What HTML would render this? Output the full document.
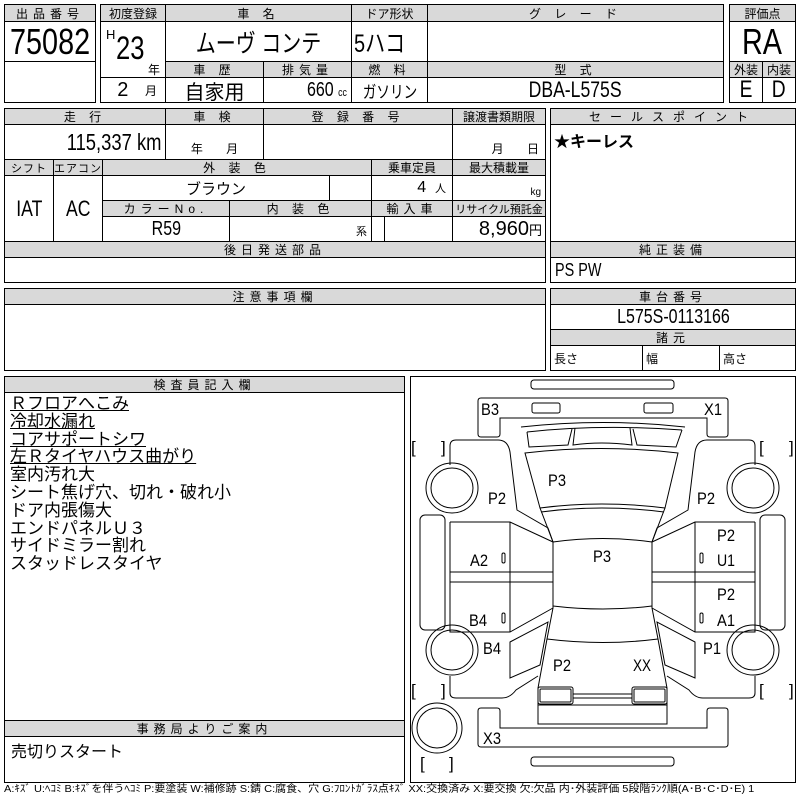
<!DOCTYPE html>
<html><head><meta charset="utf-8">
<style>
body{margin:0;width:800px;height:800px;background:#fff;position:relative;overflow:hidden;font-family:"Liberation Sans","Noto Sans CJK JP",sans-serif;}
.b{position:absolute;border:1px solid #000;box-sizing:border-box;display:flex;align-items:center;justify-content:center;font-size:13px;white-space:nowrap;overflow:hidden;color:#000;background:#fff}
.g{background:#d9d9d9;letter-spacing:5px;font-size:12px}
.c{display:inline-block;transform:scaleX(0.8)}
.cr{display:inline-block;transform:scaleX(0.8);transform-origin:right}
.lines{position:absolute;left:10px;top:395px;font-size:17px;line-height:17.8px;font-family:"Liberation Sans","Noto Sans CJK JP",sans-serif}
.lines div{white-space:nowrap}
.u{text-decoration:underline}
</style></head><body>
<div class="b g" style="left:4px;top:4px;width:92px;height:18px">出品番号</div>
<div class="b" style="left:4px;top:21px;width:92px;height:41px;font-size:36px"><span class="c">75082</span></div>
<div class="b" style="left:4px;top:61px;width:92px;height:42px"></div>

<div class="b g" style="left:100px;top:4px;width:66px;height:18px;letter-spacing:0">初度登録</div>
<div class="b g" style="left:165px;top:4px;width:187px;height:18px">車 名</div>
<div class="b g" style="left:351px;top:4px;width:77px;height:18px;letter-spacing:0">ドア形状</div>
<div class="b g" style="left:427px;top:4px;width:297px;height:18px">グ レ ー ド</div>
<div class="b" style="left:100px;top:21px;width:66px;height:57px"></div>
<div style="position:absolute;left:106px;top:27px;font-size:13px">H</div>
<div style="position:absolute;left:116px;top:30px;font-size:32px"><span class="c" style="transform-origin:left">23</span></div>
<div style="position:absolute;left:148px;top:61px;font-size:12px">年</div>
<div class="b" style="left:165px;top:21px;width:187px;height:41px;font-size:25px"><span class="c">ムーヴ コンテ</span></div>
<div class="b" style="left:351px;top:21px;width:77px;height:41px;font-size:25px;justify-content:flex-start;padding-left:2px"><span class="c" style="transform-origin:left">5ハコ</span></div>
<div class="b" style="left:427px;top:21px;width:297px;height:41px"></div>
<div class="b g" style="left:165px;top:61px;width:99px;height:17px">車 歴</div>
<div class="b g" style="left:263px;top:61px;width:89px;height:17px">排気量</div>
<div class="b g" style="left:351px;top:61px;width:77px;height:17px">燃 料</div>
<div class="b g" style="left:427px;top:61px;width:297px;height:17px">型 式</div>
<div class="b" style="left:100px;top:77px;width:66px;height:26px;font-size:20px;justify-content:flex-end;padding-right:8px">2&nbsp;&nbsp;&nbsp;<span style="font-size:12px">月</span></div>
<div class="b" style="left:165px;top:77px;width:99px;height:26px;font-size:20px">自家用</div>
<div class="b" style="left:263px;top:77px;width:89px;height:26px;font-size:20px;justify-content:flex-end;padding-right:4px"><span class="cr">660&nbsp;<span style="font-size:11px">cc</span></span></div>
<div class="b" style="left:351px;top:77px;width:77px;height:26px;font-size:17px"><span class="c">ガソリン</span></div>
<div class="b" style="left:427px;top:77px;width:297px;height:26px;font-size:22px"><span class="c">DBA-L575S</span></div>

<div class="b g" style="left:729px;top:4px;width:67px;height:18px;letter-spacing:0">評価点</div>
<div class="b" style="left:729px;top:21px;width:67px;height:41px;font-size:36px"><span class="c">RA</span></div>
<div class="b g" style="left:729px;top:61px;width:34px;height:17px;letter-spacing:0">外装</div>
<div class="b g" style="left:762px;top:61px;width:34px;height:17px;letter-spacing:0">内装</div>
<div class="b" style="left:729px;top:77px;width:34px;height:26px;font-size:24px"><span class="c">E</span></div>
<div class="b" style="left:762px;top:77px;width:34px;height:26px;font-size:24px"><span class="c">D</span></div>

<div class="b g" style="left:4px;top:108px;width:162px;height:17px">走 行</div>
<div class="b g" style="left:165px;top:108px;width:99px;height:17px">車 検</div>
<div class="b g" style="left:263px;top:108px;width:190px;height:17px">登 録 番 号</div>
<div class="b g" style="left:452px;top:108px;width:94px;height:17px;letter-spacing:0">譲渡書類期限</div>
<div class="b" style="left:4px;top:124px;width:162px;height:36px;font-size:23px;justify-content:flex-end;padding-right:4px"><span class="cr">115,337 km</span></div>
<div class="b" style="left:165px;top:124px;width:99px;height:36px;align-items:flex-end;font-size:12px;padding-bottom:2px">年&nbsp;&nbsp;&nbsp;&nbsp;&nbsp;&nbsp;&nbsp;月</div>
<div class="b" style="left:263px;top:124px;width:190px;height:36px"></div>
<div class="b" style="left:452px;top:124px;width:94px;height:36px;align-items:flex-end;justify-content:flex-end;font-size:12px;padding:0 6px 2px 0">月&nbsp;&nbsp;&nbsp;&nbsp;&nbsp;&nbsp;&nbsp;日</div>
<div class="b g" style="left:4px;top:159px;width:50px;height:17px;letter-spacing:1px;font-size:11px">シフト</div>
<div class="b g" style="left:53px;top:159px;width:50px;height:17px;letter-spacing:1px;font-size:11px">エアコン</div>
<div class="b g" style="left:102px;top:159px;width:270px;height:17px">外 装 色</div>
<div class="b g" style="left:371px;top:159px;width:82px;height:17px;letter-spacing:0">乗車定員</div>
<div class="b g" style="left:452px;top:159px;width:94px;height:17px;letter-spacing:0">最大積載量</div>
<div class="b" style="left:4px;top:175px;width:50px;height:67px;font-size:22px"><span class="c">IAT</span></div>
<div class="b" style="left:53px;top:175px;width:50px;height:67px;font-size:22px"><span class="c">AC</span></div>
<div class="b" style="left:102px;top:175px;width:228px;height:26px;font-size:15px">ブラウン</div>
<div class="b" style="left:329px;top:175px;width:43px;height:26px"></div>
<div class="b" style="left:371px;top:175px;width:82px;height:26px;justify-content:flex-end;padding-right:6px;font-size:16px">4&nbsp;&nbsp;<span style="font-size:11px">人</span></div>
<div class="b" style="left:452px;top:175px;width:94px;height:26px;justify-content:flex-end;align-items:flex-end;padding:0 4px 2px 0;font-size:10px">kg</div>
<div class="b g" style="left:102px;top:200px;width:128px;height:17px">カラーNo.</div>
<div class="b g" style="left:229px;top:200px;width:143px;height:17px">内 装 色</div>
<div class="b g" style="left:371px;top:200px;width:82px;height:17px">輸入車</div>
<div class="b g" style="left:452px;top:200px;width:94px;height:17px;letter-spacing:0;font-size:11px">リサイクル預託金</div>
<div class="b" style="left:102px;top:216px;width:128px;height:26px;font-size:20px"><span class="c">R59</span></div>
<div class="b" style="left:229px;top:216px;width:143px;height:26px;justify-content:flex-end;align-items:flex-end;padding:0 4px 2px 0;font-size:11px">系</div>
<div class="b" style="left:371px;top:216px;width:14px;height:26px"></div>
<div class="b" style="left:384px;top:216px;width:69px;height:26px"></div>
<div class="b" style="left:452px;top:216px;width:94px;height:26px;font-size:20px;justify-content:flex-end;padding-right:3px">8,960<span style="font-size:13px">円</span></div>
<div class="b g" style="left:4px;top:241px;width:542px;height:17px">後日発送部品</div>
<div class="b" style="left:4px;top:257px;width:542px;height:26px"></div>

<div class="b g" style="left:550px;top:108px;width:246px;height:17px;letter-spacing:9px">セールスポイント</div>
<div class="b" style="left:550px;top:124px;width:246px;height:118px;align-items:flex-start;justify-content:flex-start;padding:3px 0 0 3px;font-size:16px;font-weight:bold">★キーレス</div>
<div class="b g" style="left:550px;top:241px;width:246px;height:17px">純正装備</div>
<div class="b" style="left:550px;top:257px;width:246px;height:26px;justify-content:flex-start;padding-left:4px;font-size:18px"><span class="c" style="transform-origin:left">PS PW</span></div>

<div class="b g" style="left:4px;top:288px;width:542px;height:17px">注意事項欄</div>
<div class="b" style="left:4px;top:304px;width:542px;height:67px"></div>
<div class="b g" style="left:550px;top:288px;width:246px;height:17px">車台番号</div>
<div class="b" style="left:550px;top:304px;width:246px;height:26px;font-size:20px"><span class="c">L575S-0113166</span></div>
<div class="b g" style="left:550px;top:329px;width:246px;height:17px">諸元</div>
<div class="b" style="left:550px;top:345px;width:93px;height:26px;justify-content:flex-start;padding-left:3px;font-size:12px">長さ</div>
<div class="b" style="left:642px;top:345px;width:78px;height:26px;justify-content:flex-start;padding-left:3px;font-size:12px">幅</div>
<div class="b" style="left:719px;top:345px;width:77px;height:26px;justify-content:flex-start;padding-left:3px;font-size:12px">高さ</div>

<div class="b g" style="left:4px;top:376px;width:401px;height:17px">検査員記入欄</div>
<div class="b" style="left:4px;top:392px;width:401px;height:329px"></div>
<div class="lines">
<div class="u">Ｒフロアへこみ</div>
<div class="u">冷却水漏れ</div>
<div class="u">コアサポートシワ</div>
<div class="u">左Ｒタイヤハウス曲がり</div>
<div>室内汚れ大</div>
<div>シート焦げ穴、切れ・破れ小</div>
<div>ドア内張傷大</div>
<div>エンドパネルＵ３</div>
<div>サイドミラー割れ</div>
<div>スタッドレスタイヤ</div>
</div>
<div class="b g" style="left:4px;top:720px;width:401px;height:17px">事務局よりご案内</div>
<div class="b" style="left:4px;top:736px;width:401px;height:47px;align-items:flex-start;justify-content:flex-start;padding:1px 0 0 6px;font-size:16px">売切りスタート</div>
<div class="b" style="left:410px;top:376px;width:386px;height:407px"></div>
<div style="position:absolute;left:4px;top:780px;font-size:10px;white-space:nowrap;transform:scaleX(1.1);transform-origin:left">A:ｷｽﾞ U:ﾍｺﾐ B:ｷｽﾞを伴うﾍｺﾐ P:要塗装 W:補修跡 S:錆 C:腐食、穴 G:ﾌﾛﾝﾄｶﾞﾗｽ点ｷｽﾞ XX:交換済み X:要交換 欠:欠品 内･外装評価 5段階ﾗﾝｸ順(A･B･C･D･E) 1</div>

<svg style="position:absolute;left:0;top:0" width="800" height="800" viewBox="0 0 800 800">
<g fill="none" stroke="#000" stroke-width="1">
<rect x="531" y="380" width="143" height="9" rx="3"/>
<rect x="531" y="757" width="143" height="9" rx="3"/>
<path d="M481,398 H725 Q728,398 728,401 V434 Q728,437 725,437 H710 Q707,437 707,434 V418 H500 V434 Q500,437 497,437 H481 Q478,437 478,434 V401 Q478,398 481,398Z"/>
<rect x="532" y="403" width="28" height="10" rx="2"/>
<rect x="644" y="403" width="29" height="10" rx="2"/>
<path d="M481,747 H725 Q728,747 728,744 V711 Q728,708 725,708 H710 Q707,708 707,711 V728 H500 V711 Q500,708 497,708 H481 Q478,708 478,711 V744 Q478,747 481,747Z"/>
<path d="M521,427 Q603,418 685,427"/>
<path d="M527,432 Q601,424 682,430"/>
<path d="M527,432 L529,447 L568,445 L572,429"/>
<path d="M682,430 L676,447 L637,445 L633,429"/>
<path d="M575,428 L573,445 Q601,441 632,445 L630,428"/>
<path d="M525,453 Q601,444 678,453 L665,508 Q601,500 540,508 Z"/>
<path d="M541,512 Q601,504 664,512"/>
<path d="M540,508 L553,542 L553,608 L547,639 L538,688 L538,724"/>
<path d="M665,508 L652,542 L652,608 L658,639 L667,688 L667,724"/>
<path d="M553,542 Q603,535 652,542"/>
<path d="M553,606 Q603,612 652,606"/>
<path d="M547,639 Q603,646 658,639"/>
<rect x="538" y="687" width="35" height="17" rx="2"/>
<rect x="540" y="689" width="31" height="13" rx="1"/>
<rect x="632" y="687" width="35" height="17" rx="2"/>
<rect x="634" y="689" width="31" height="13" rx="1"/>
<path d="M573,694 H632 M573,698 H632"/>
<rect x="538" y="705" width="129" height="19"/>
<g>
<path d="M450,465 V446 Q450,440 456,440 H498 Q508,440 510,452 L517,510 L548,528 L553,542"/>
<path d="M450,522 H510 L553,542"/>
<path d="M450,572 H553 M450,582 H553"/>
<path d="M510,522 V632"/>
<path d="M450,522 V632 H510 L553,608"/>
<path d="M510,642 L548,622 L540,665 L510,678 Z"/>
<path d="M450,676 V693 Q450,698 456,698 H502 Q510,698 516,690 L538,676"/>
<rect x="420" y="515" width="25" height="115" rx="5"/>
<ellipse cx="452" cy="488" rx="26" ry="25"/>
<ellipse cx="452" cy="488" rx="21" ry="20"/>
<ellipse cx="452" cy="650" rx="26" ry="25"/>
<ellipse cx="452" cy="650" rx="21" ry="20"/>
</g>
<g transform="translate(1205,0) scale(-1,1)">
<path d="M450,465 V446 Q450,440 456,440 H498 Q508,440 510,452 L517,510 L548,528 L553,542"/>
<path d="M450,522 H510 L553,542"/>
<path d="M450,572 H553 M450,582 H553"/>
<path d="M510,522 V632"/>
<path d="M450,522 V632 H510 L553,608"/>
<path d="M510,642 L548,622 L540,665 L510,678 Z"/>
<path d="M450,676 V693 Q450,698 456,698 H502 Q510,698 516,690 L538,676"/>
<rect x="420" y="515" width="25" height="115" rx="5"/>
<ellipse cx="452" cy="488" rx="26" ry="25"/>
<ellipse cx="452" cy="488" rx="21" ry="20"/>
<ellipse cx="452" cy="650" rx="26" ry="25"/>
<ellipse cx="452" cy="650" rx="21" ry="20"/>
</g>
<ellipse cx="437" cy="728" rx="25" ry="25"/>
<ellipse cx="437" cy="728" rx="20" ry="20"/>
<rect x="502" y="553" width="3" height="10" rx="1.5"/>
<rect x="502" y="613" width="3" height="10" rx="1.5"/>
<rect x="700" y="553" width="3" height="10" rx="1.5"/>
<rect x="700" y="613" width="3" height="10" rx="1.5"/>
</g>
<g font-family="Liberation Sans, sans-serif" font-size="17" fill="#000">
<text x="481" y="415" textLength="18" lengthAdjust="spacingAndGlyphs">B3</text>
<text x="704" y="415" textLength="18" lengthAdjust="spacingAndGlyphs">X1</text>
<text x="548" y="486" textLength="18" lengthAdjust="spacingAndGlyphs">P3</text>
<text x="488" y="504" textLength="18" lengthAdjust="spacingAndGlyphs">P2</text>
<text x="697" y="504" textLength="18" lengthAdjust="spacingAndGlyphs">P2</text>
<text x="470" y="566" textLength="18" lengthAdjust="spacingAndGlyphs">A2</text>
<text x="593" y="562" textLength="18" lengthAdjust="spacingAndGlyphs">P3</text>
<text x="717" y="541" textLength="18" lengthAdjust="spacingAndGlyphs">P2</text>
<text x="717" y="566" textLength="18" lengthAdjust="spacingAndGlyphs">U1</text>
<text x="717" y="600" textLength="18" lengthAdjust="spacingAndGlyphs">P2</text>
<text x="717" y="626" textLength="18" lengthAdjust="spacingAndGlyphs">A1</text>
<text x="469" y="626" textLength="18" lengthAdjust="spacingAndGlyphs">B4</text>
<text x="483" y="654" textLength="18" lengthAdjust="spacingAndGlyphs">B4</text>
<text x="703" y="654" textLength="18" lengthAdjust="spacingAndGlyphs">P1</text>
<text x="553" y="671" textLength="18" lengthAdjust="spacingAndGlyphs">P2</text>
<text x="633" y="671" textLength="18" lengthAdjust="spacingAndGlyphs">XX</text>
<text x="483" y="744" textLength="18" lengthAdjust="spacingAndGlyphs">X3</text>
<text x="411" y="453">[</text><text x="441" y="453">]</text>
<text x="759" y="453">[</text><text x="789" y="453">]</text>
<text x="411" y="696">[</text><text x="441" y="696">]</text>
<text x="759" y="696">[</text><text x="789" y="696">]</text>
<text x="420" y="769">[</text><text x="449" y="769">]</text>
</g>
</svg>
</body></html>
